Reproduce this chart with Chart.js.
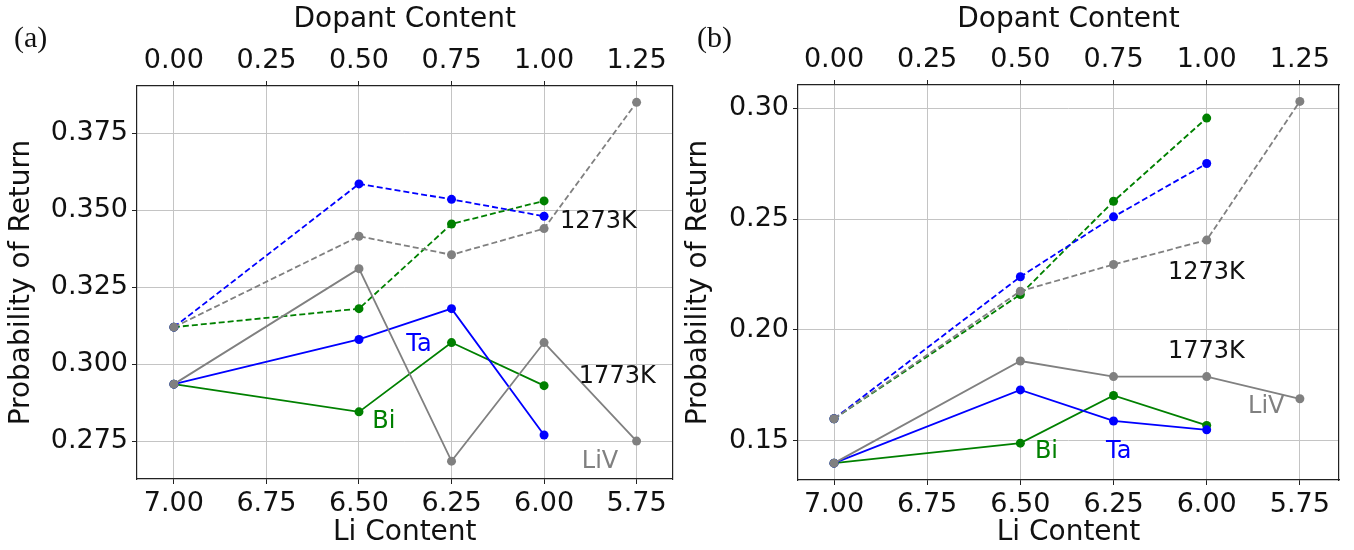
<!DOCTYPE html>
<html>
<head>
<meta charset="utf-8">
<script src="https://cdn.jsdelivr.net/npm/chart.js@4/dist/chart.umd.min.js"></script>
<style>
  body { margin: 0; background: #fff; }
  .panel { position: absolute; top: 0; width: 677px; height: 550px; }
  .tag { position: absolute; top: 20px; font: 30px "Liberation Serif", serif; color: #111; }
</style>
</head>
<body>
<div class="panel" style="left:0"><canvas id="chartA" width="677" height="550"></canvas></div>
<div class="panel" style="left:677px"><canvas id="chartB" width="677" height="550"></canvas></div>
<div class="tag" style="left:14px">(a)</div>
<div class="tag" style="left:697px">(b)</div>
<script>
const liContent = [7.00, 6.50, 6.25, 6.00, 5.75];
const liTicks = [7.00, 6.75, 6.50, 6.25, 6.00, 5.75];
const dopantTicks = [0.00, 0.25, 0.50, 0.75, 1.00, 1.25];
const probTicksA = [0.275, 0.300, 0.325, 0.350, 0.375];
const probTicksB = [0.15, 0.20, 0.25, 0.30];

// panel (a): solid = 1773K, dashed = 1273K
const taHotA = [0.2935, 0.308, 0.318, 0.277];
const biHotA = [0.2935, 0.2845, 0.307, 0.293];
const livHotA = [0.2935, 0.331, 0.2685, 0.307, 0.275];
const taColdA = [0.312, 0.3585, 0.3535, 0.348];
const biColdA = [0.312, 0.318, 0.3455, 0.353];
const livColdA = [0.312, 0.3415, 0.3355, 0.344, 0.385];

// panel (b)
const taHotB = [0.140, 0.173, 0.159, 0.155];
const biHotB = [0.140, 0.149, 0.1705, 0.157];
const livHotB = [0.140, 0.186, 0.179, 0.179, 0.169];
const taColdB = [0.160, 0.224, 0.251, 0.275];
const biColdB = [0.160, 0.216, 0.258, 0.2955];
const livColdB = [0.160, 0.2175, 0.2295, 0.2405, 0.303];

const BLUE = "#0000ff", GREEN = "#008000", GREY = "#808080";
const FONT = '"DejaVu Sans", sans-serif';

function series(values, color, dashed) {
  return {
    data: values.map((v, i) => ({ x: liContent[i], y: v })),
    borderColor: color,
    backgroundColor: color,
    borderWidth: 1.8,
    borderDash: dashed ? [6, 3] : [],
    pointRadius: 4.5,
    pointHoverRadius: 4.5,
    pointBorderWidth: 0,
    pointBackgroundColor: color
  };
}

// text labels placed in data coordinates
function notes(items) {
  return {
    id: "notes",
    afterDatasetsDraw(chart) {
      const { ctx, scales } = chart;
      ctx.save();
      ctx.font = "24px " + FONT;
      ctx.textBaseline = "middle";
      items.forEach(n => {
        ctx.fillStyle = n.color;
        ctx.fillText(n.text, scales.x.getPixelForValue(n.li), scales.y.getPixelForValue(n.p));
      });
      ctx.restore();
    }
  };
}

function makePanel(id, p) {
  const tickFont = { family: FONT, size: 27 };
  const titleFont = { family: FONT, size: 28 };
  const border = { display: true, color: "#222", width: 1.2 };
  new Chart(document.getElementById(id), {
    type: "line",
    data: { datasets: p.sets },
    options: {
      responsive: false,
      devicePixelRatio: 1,
      animation: false,
      layout: { padding: { left: 0, right: p.padRight, top: 0, bottom: 0 } },
      plugins: { legend: { display: false }, tooltip: { enabled: false } },
      scales: {
        x: {
          type: "linear", position: "bottom", reverse: true,
          min: p.xMin, max: p.xMax,
          afterBuildTicks: s => { s.ticks = liTicks.map(v => ({ value: v })); },
          afterFit: s => { s.height = p.bottomH; },
          ticks: { font: tickFont, color: "#111", padding: 4, maxRotation: 0, callback: v => v.toFixed(2) },
          grid: { color: "#c4c4c4", lineWidth: 1, tickLength: 5, tickColor: "#222" },
          border: border,
          title: { display: true, text: "Li Content", font: titleFont, color: "#111", padding: { top: 0, bottom: 0 } }
        },
        xTop: {
          type: "linear", position: "top",
          min: 7 - p.xMax, max: 7 - p.xMin,
          afterBuildTicks: s => { s.ticks = dopantTicks.map(v => ({ value: v })); },
          afterFit: s => { s.height = p.topH; },
          ticks: { font: tickFont, color: "#111", padding: 4, maxRotation: 0, callback: v => v.toFixed(2) },
          grid: { drawOnChartArea: false, tickLength: 5, tickColor: "#222" },
          border: border,
          title: { display: true, text: "Dopant Content", font: titleFont, color: "#111", padding: { top: 3, bottom: 0 } }
        },
        y: {
          type: "linear", position: "left",
          min: p.yMin, max: p.yMax,
          afterBuildTicks: s => { s.ticks = p.yTicks.map(v => ({ value: v })); },
          afterFit: s => { s.width = p.leftW; },
          ticks: { font: tickFont, color: "#111", padding: 4, callback: v => v.toFixed(p.yDec) },
          grid: { color: "#c4c4c4", lineWidth: 1, tickLength: 5, tickColor: "#222" },
          border: border,
          title: { display: true, text: "Probability of Return", font: titleFont, color: "#111", padding: { top: 5, bottom: 0 } }
        },
        yRight: {
          type: "linear", position: "right",
          min: p.yMin, max: p.yMax,
          afterFit: s => { s.width = 0; },
          ticks: { display: false },
          grid: { drawOnChartArea: false, drawTicks: false },
          border: border
        }
      }
    },
    plugins: [notes(p.notes)]
  });
}

makePanel("chartA", {
  sets: [
    series(livColdA, GREY, true), series(livHotA, GREY, false),
    series(taColdA, BLUE, true), series(taHotA, BLUE, false),
    series(biColdA, GREEN, true), series(biHotA, GREEN, false)
  ],
  xMin: 5.653, xMax: 7.0997, yMin: 0.2627, yMax: 0.3903,
  yTicks: probTicksA, yDec: 3,
  leftW: 137, topH: 86, bottomH: 71, padRight: 3,
  notes: [
    { text: "1273K", li: 5.957, p: 0.3461, color: "#111" },
    { text: "1773K", li: 5.906, p: 0.2958, color: "#111" },
    { text: "Ta", li: 6.372, p: 0.3062, color: BLUE },
    { text: "Bi", li: 6.464, p: 0.2812, color: GREEN },
    { text: "LiV", li: 5.898, p: 0.2682, color: GREY }
  ]
});

makePanel("chartB", {
  sets: [
    series(livColdB, GREY, true), series(livHotB, GREY, false),
    series(taColdB, BLUE, true), series(taHotB, BLUE, false),
    series(biColdB, GREEN, true), series(biHotB, GREEN, false)
  ],
  xMin: 5.645, xMax: 7.0966, yMin: 0.1324, yMax: 0.3104,
  yTicks: probTicksB, yDec: 2,
  leftW: 121, topH: 85, bottomH: 70, padRight: 15,
  notes: [
    { text: "1273K", li: 6.104, p: 0.2257, color: "#111" },
    { text: "1773K", li: 6.104, p: 0.1901, color: "#111" },
    { text: "LiV", li: 5.889, p: 0.1653, color: GREY },
    { text: "Bi", li: 6.461, p: 0.1450, color: GREEN },
    { text: "Ta", li: 6.270, p: 0.1450, color: BLUE }
  ]
});
</script>
</body>
</html>
